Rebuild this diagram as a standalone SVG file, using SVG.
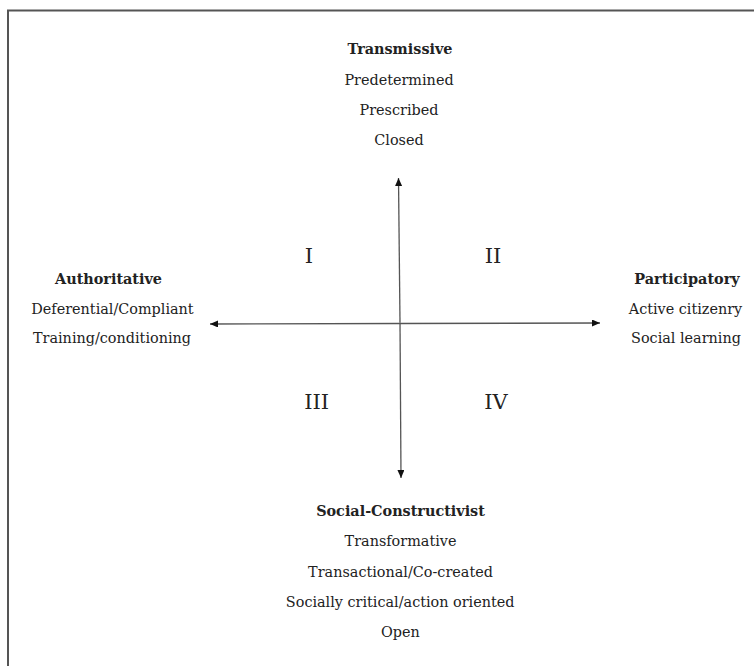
<svg xmlns="http://www.w3.org/2000/svg" width="754" height="666" viewBox="0 0 754 666">
<style>
text{font-family:"DejaVu Serif","Liberation Serif",serif;fill:#222;text-anchor:middle}
.r{font-size:14.4px}
.b{font-size:14.4px;font-weight:bold}
.q{font-size:21px}
.ax{stroke:#555;stroke-width:1.3;fill:none}
</style>
<defs>
<marker id="ah" markerWidth="8" markerHeight="7" refX="8" refY="3.5" orient="auto" markerUnits="userSpaceOnUse">
<path d="M0,0 L8,3.5 L0,7 Z" fill="#111"/>
</marker>
</defs>
<rect width="754" height="666" fill="#fff"/>
<path d="M8,666 V10.5 H754" fill="none" stroke="#555" stroke-width="2"/>
<g id="connectors">
<line class="ax" x1="400" y1="322.5" x2="398.5" y2="178" marker-end="url(#ah)"/>
<line class="ax" x1="400" y1="322.5" x2="401" y2="478" marker-end="url(#ah)"/>
<line class="ax" x1="400" y1="323.5" x2="210" y2="324" marker-end="url(#ah)"/>
<line class="ax" x1="400" y1="323.5" x2="600" y2="323" marker-end="url(#ah)"/>
</g>
<g id="transmissive">
<text class="b" x="400" y="54">Transmissive</text>
<text class="r" x="399" y="84.5">Predetermined</text>
<text class="r" x="399" y="115">Prescribed</text>
<text class="r" x="399" y="145">Closed</text>
</g>
<g id="authoritative">
<text class="b" x="108.5" y="284">Authoritative</text>
<text class="r" x="112.5" y="314">Deferential/Compliant</text>
<text class="r" x="112" y="343">Training/conditioning</text>
</g>
<g id="participatory">
<text class="b" x="687" y="284">Participatory</text>
<text class="r" x="685.5" y="314">Active citizenry</text>
<text class="r" x="686" y="343">Social learning</text>
</g>
<g id="social-constructivist">
<text class="b" x="400.5" y="516">Social-Constructivist</text>
<text class="r" x="400.5" y="546">Transformative</text>
<text class="r" x="400.5" y="577">Transactional/Co-created</text>
<text class="r" x="400.2" y="607">Socially critical/action oriented</text>
<text class="r" x="400.3" y="637">Open</text>
</g>
<g id="quadrants">
<text class="q" x="309" y="262.7">I</text>
<text class="q" x="493" y="262.7">II</text>
<text class="q" x="316.7" y="409">III</text>
<text class="q" x="496" y="409">IV</text>
</g>
</svg>
